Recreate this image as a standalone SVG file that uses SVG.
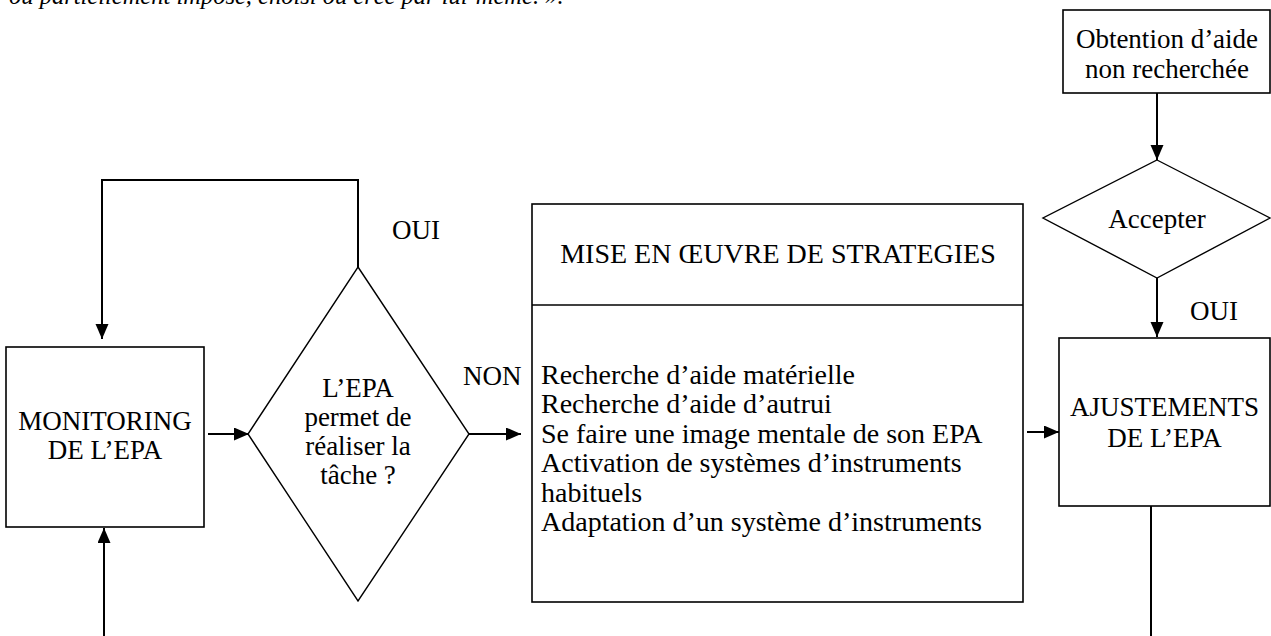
<svg xmlns="http://www.w3.org/2000/svg" width="1271" height="636" viewBox="0 0 1271 636">
<defs>
<marker id="ah" markerUnits="userSpaceOnUse" markerWidth="16" markerHeight="14" refX="15" refY="6.5" orient="auto">
<path d="M0,0 L15,6.5 L0,13 z" fill="#000"/>
</marker>
<style>
.t{font-family:"Liberation Serif","Times New Roman",serif;font-size:27px;fill:#000}
.c{text-anchor:middle}
.box{fill:#fff;stroke:#000;stroke-width:1.6}
.dia{fill:#fff;stroke:#000;stroke-width:1.4}
.con{fill:none;stroke:#000;stroke-width:2}
.arr{marker-end:url(#ah)}
</style>
</defs>
<rect width="1271" height="636" fill="#fff"/>
<text x="9" y="4" font-family="'Liberation Serif','Times New Roman',serif" font-style="italic" font-size="24.5">ou partiellement imposé, choisi ou créé par lui-même. ».</text>

<g id="connectors">
<path class="con arr" d="M208,434 H249"/>
<path class="con arr" d="M469,434 H521"/>
<path class="con arr" d="M1027,432 H1059"/>
<path class="con arr" d="M1157,93 V160"/>
<path class="con arr" d="M1157,278 V337"/>
<path class="con" d="M1151,506 V636"/>
<path class="con arr" d="M104,636 V528"/>
<path class="con arr" d="M358,267 V180 H102 V339"/>
</g>

<g id="obtention">
<rect class="box" x="1063" y="10" width="207" height="83"/>
<text class="t c" x="1167" y="48">Obtention d’aide</text>
<text class="t c" x="1167" y="78">non recherchée</text>
</g>

<g id="accepter">
<polygon class="dia" points="1157,160 1270,218 1157,278 1043,218"/>
<text class="t c" x="1157" y="228">Accepter</text>
</g>

<g id="label-oui-right">
<text class="t" x="1190" y="320">OUI</text>
</g>

<g id="ajustements">
<rect class="box" x="1059" y="338" width="211" height="168"/>
<text class="t c" x="1164.5" y="416">AJUSTEMENTS</text>
<text class="t c" x="1164.5" y="447">DE L’EPA</text>
</g>

<g id="monitoring">
<rect class="box" x="6" y="347" width="198" height="180"/>
<text class="t c" x="105" y="430">MONITORING</text>
<text class="t c" x="105" y="459">DE L’EPA</text>
</g>

<g id="decision">
<polygon class="dia" points="358,267 469,434 358,601 248,434"/>
<text class="t c" x="358" y="397">L’EPA</text>
<text class="t c" x="358" y="426">permet de</text>
<text class="t c" x="358" y="455">réaliser la</text>
<text class="t c" x="358" y="484">tâche ?</text>
</g>

<g id="label-oui-left">
<text class="t" x="392" y="239">OUI</text>
</g>

<g id="label-non">
<text class="t" x="463" y="385">NON</text>
</g>

<g id="strategies">
<rect class="box" x="532" y="204" width="491" height="398"/>
<line x1="532" y1="305" x2="1023" y2="305" stroke="#000" stroke-width="1.6"/>
<text class="t c" x="778" y="263" style="font-size:28px">MISE EN ŒUVRE DE STRATEGIES</text>
<g class="t" style="font-size:28px">
<text x="541" y="384">Recherche d’aide matérielle</text>
<text x="541" y="413">Recherche d’aide d’autrui</text>
<text x="541" y="442.5">Se faire une image mentale de son EPA</text>
<text x="541" y="472">Activation de systèmes d’instruments</text>
<text x="541" y="501.5">habituels</text>
<text x="541" y="531">Adaptation d’un système d’instruments</text>
</g>
</g>
</svg>
